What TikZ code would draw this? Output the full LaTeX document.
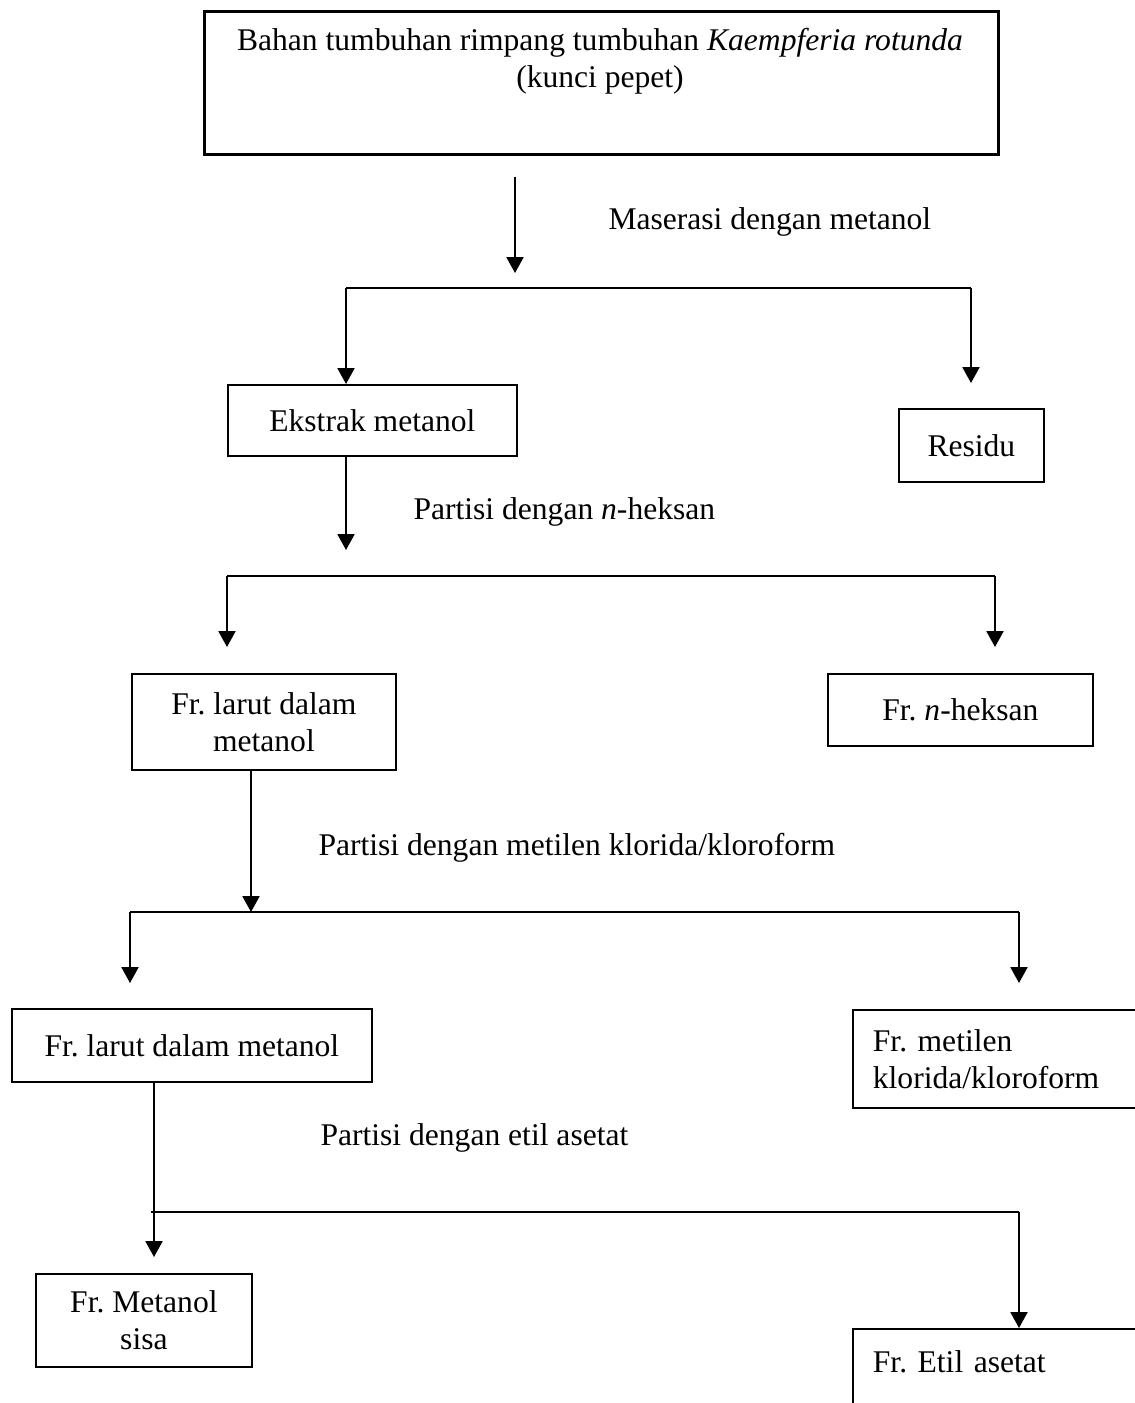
\documentclass[tikz,border=0pt]{standalone}
\usepackage{fontspec}
\setmainfont{Liberation Serif}
\usetikzlibrary{positioning,arrows.meta}

\begin{document}
\begin{tikzpicture}[
        x=0.38pt, y=-0.38pt,
        font=\fontsize{12}{14}\selectfont\frenchspacing,
        box/.style={rectangle, draw, line width=0.7pt, inner sep=0pt, align=center},
        sz/.style 2 args={minimum width=#1*0.38pt, minimum height=#2*0.38pt},
        cutbox/.style={box, align=left, inner xsep=7.6pt, text width=300pt},
        arr/.style={line width=0.8pt, -{Triangle[length=6pt,width=6.4pt]}},
        link/.style={line width=0.8pt},
        lbl/.style={anchor=west, inner sep=0pt}
    ]
    \path[use as bounding box, fill=white] (0,0) rectangle (1134,1403);

    % boxes
    \node[box, sz={794}{143}, anchor=north west, line width=1.1pt] (bahan) at (203,10) {};
    \node[align=center, inner sep=0pt] (bahantxt) at (600,61)
        {Bahan tumbuhan rimpang tumbuhan \textit{Kaempferia rotunda}\\(kunci pepet)};
    \node[box, sz={289}{71}, anchor=north west] (ekstrak) at (227,384) {Ekstrak metanol};
    \node[box, sz={145}{73}, anchor=north west] (residu)  at (898,408) {Residu};
    \node[box, sz={264}{96}, anchor=north west] (larut1)  at (131,673) {Fr. larut dalam\\metanol};
    \node[box, sz={265}{72}, anchor=north west] (heksan)  at (827,673) {Fr. \textit{n}-heksan};
    \node[box, sz={360}{73}, anchor=north west] (larut2)  at (11,1008) {Fr. larut dalam metanol};
    \node[cutbox, sz={400}{98}, anchor=north west] (metilen) at (852,1009) {Fr. metilen\\klorida/kloroform};
    \node[box, sz={216}{93}, anchor=north west] (sisa)    at (35,1273) {Fr. Metanol\\sisa};
    \node[cutbox, inner ysep=0pt, text height=16.5pt, text depth=40pt, anchor=north west] (etil) at (852,1328) {Fr. Etil asetat};

    % step labels
    \node[lbl] (maserasi) at (608,222)  {Maserasi dengan metanol};
    \node[lbl] (partisi1) at (413,512)  {Partisi dengan \textit{n}-heksan};
    \node[lbl] (partisi2) at (318,848)  {Partisi dengan metilen klorida/kloroform};
    \node[lbl] (partisi3) at (320,1138) {Partisi dengan etil asetat};

    % branch points
    \coordinate (s1)  at (515,177);
    \coordinate (t1)  at (515,273);
    \coordinate (b1l) at (346,288);
    \coordinate (b1r) at (971,288);
    \coordinate (t2)  at (346,550);
    \coordinate (b2l) at (227,576);
    \coordinate (b2r) at (995,576);
    \coordinate (b3)  at (251,912);
    \coordinate (b3l) at (130,912);
    \coordinate (b3r) at (1019,912);
    \coordinate (t4)  at (154,1257);
    \coordinate (b4l) at (151,1212);
    \coordinate (b4r) at (1019,1212);

    % maserasi
    \draw[arr]  (s1) -- (t1);
    \draw[link] (b1l) -- (b1r);
    \draw[arr]  (b1l) -- (b1l |- ekstrak.north);
    \draw[arr]  (b1r) -- (971,383);

    % n-heksan
    \draw[arr]  (b1l |- ekstrak.south) -- (t2);
    \draw[link] (b2l) -- (b2r);
    \draw[arr]  (b2l) -- (227,647);
    \draw[arr]  (b2r) -- (995,647);

    % metilen klorida
    \draw[arr]  (b3 |- larut1.south) -- (b3);
    \draw[link] (b3l) -- (b3r);
    \draw[arr]  (b3l) -- (130,983);
    \draw[arr]  (b3r) -- (1019,983);

    % etil asetat
    \draw[arr]  (t4 |- larut2.south) -- (t4);
    \draw[link] (b4l) -- (b4r);
    \draw[arr]  (b4r) -- (b4r |- etil.north);
\end{tikzpicture}
\end{document}
